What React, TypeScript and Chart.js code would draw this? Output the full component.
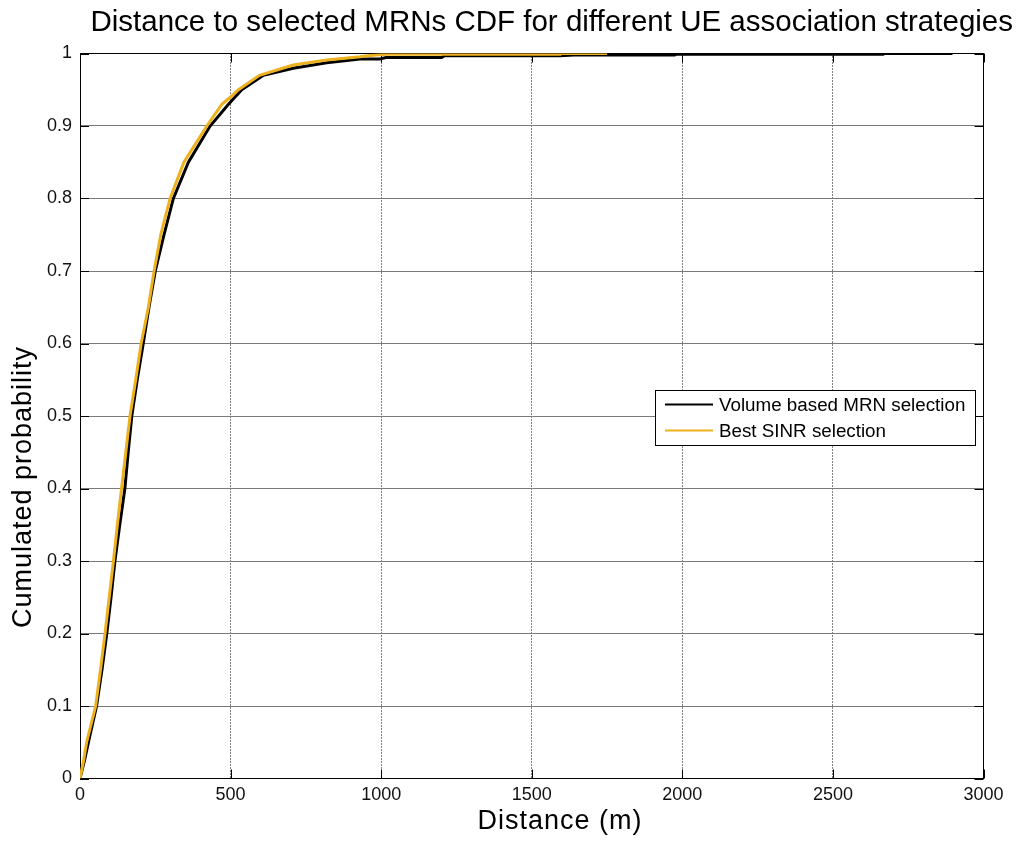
import { useEffect, useRef } from 'react';
import { Chart, registerables } from 'chart.js';

Chart.register(...registerables);

const chartTitle = 'Distance to selected MRNs CDF for different UE association strategies';
const xAxisTitle = 'Distance (m)';
const yAxisTitle = 'Cumulated probability';
const seriesNames = ['Volume based MRN selection', 'Best SINR selection'];
const seriesColors = ['#000000', '#EDB120'];

const xTicks = [0, 500, 1000, 1500, 2000, 2500, 3000];
const yTicks = [0, 0.1, 0.2, 0.3, 0.4, 0.5, 0.6, 0.7, 0.8, 0.9, 1];

const volumeDistance = [0, 15, 28, 55, 73, 89, 103, 116, 132, 149, 160, 172, 190, 210, 229, 250, 279, 310, 360, 432, 493, 537, 609, 708, 819, 930, 996, 1016, 1201, 1210, 1595, 1640, 1975, 1980, 2667, 2672, 2897];
const volumeProb = [0, 0.025, 0.05, 0.1, 0.15, 0.2, 0.25, 0.3, 0.35, 0.4, 0.45, 0.5, 0.55, 0.6, 0.65, 0.7, 0.75, 0.8, 0.85, 0.9, 0.93, 0.95, 0.97, 0.9796, 0.9873, 0.9925, 0.9925, 0.9945, 0.9945, 0.9968, 0.9968, 0.998, 0.998, 0.999, 0.999, 1, 1];

const sinrDistance = [0, 12, 22, 52, 68, 83, 97, 111, 124, 138, 152, 166, 185, 203, 227, 246, 268, 299, 345, 421, 471, 500, 526, 596, 708, 819, 930, 954, 1016, 1595, 1600, 1750];
const sinrProb = [0, 0.025, 0.05, 0.1, 0.15, 0.2, 0.25, 0.3, 0.35, 0.4, 0.45, 0.5, 0.55, 0.6, 0.65, 0.7, 0.75, 0.8, 0.85, 0.9, 0.93, 0.94, 0.95, 0.97, 0.9841, 0.991, 0.9955, 0.997, 0.999, 0.999, 1, 1];

const FONT = "'Liberation Sans', Arial, Helvetica, sans-serif";

const toPoints = (xs: number[], ys: number[]) => xs.map((x, i) => ({ x, y: ys[i] }));

const ticksPlugin = {
  id: 'inwardTicks',
  beforeDatasetsDraw(chart: any) {
    const { ctx, chartArea: a, scales } = chart;
    const len = 9;
    ctx.save();
    ctx.strokeStyle = '#000';
    ctx.lineWidth = 1;
    ctx.beginPath();
    for (const v of xTicks) {
      const px = Math.round(scales.x.getPixelForValue(v)) + 0.5;
      ctx.moveTo(px, a.bottom);
      ctx.lineTo(px, a.bottom - len);
      ctx.moveTo(px, a.top);
      ctx.lineTo(px, a.top + len);
    }
    for (const v of yTicks) {
      const py = Math.round(scales.y.getPixelForValue(v)) + 0.5;
      ctx.moveTo(a.left, py);
      ctx.lineTo(a.left + len, py);
      ctx.moveTo(a.right, py);
      ctx.lineTo(a.right - len, py);
    }
    ctx.stroke();
    ctx.restore();
  },
};

const decorPlugin = {
  id: 'decor',
  afterDraw(chart: any) {
    const { ctx } = chart;
    ctx.save();
    // axis titles
    ctx.fillStyle = '#000';
    ctx.font = `27px ${FONT}`;
    ctx.textBaseline = 'middle';
    ctx.textAlign = 'center';
    (ctx as any).letterSpacing = '1px';
    ctx.fillText(xAxisTitle, 560, 822);
    ctx.save();
    ctx.translate(24, 487);
    ctx.rotate(-Math.PI / 2);
    ctx.fillText(yAxisTitle, 0, 0);
    ctx.restore();
    (ctx as any).letterSpacing = '0px';

    // legend
    const bx = 655.5, by = 390.5, bw = 320, bh = 55;
    ctx.fillStyle = '#fff';
    ctx.fillRect(bx, by, bw, bh);
    ctx.strokeStyle = '#000';
    ctx.lineWidth = 1;
    ctx.strokeRect(bx, by, bw, bh);
    const rows = [404.5, 430.5];
    ctx.font = `18.8px ${FONT}`;
    ctx.textAlign = 'left';
    ctx.textBaseline = 'middle';
    seriesNames.forEach((name, i) => {
      ctx.strokeStyle = seriesColors[i];
      ctx.lineWidth = 2;
      ctx.beginPath();
      ctx.moveTo(665, rows[i]);
      ctx.lineTo(713, rows[i]);
      ctx.stroke();
      ctx.fillStyle = '#000';
      ctx.fillText(name, 719, rows[i] + 1);
    });
    ctx.restore();
  },
};

export default function App() {
  const ref = useRef<HTMLCanvasElement>(null);
  useEffect(() => {
    const chart = new Chart(ref.current as HTMLCanvasElement, {
      type: 'line',
      data: {
        datasets: [
          {
            label: seriesNames[0],
            data: toPoints(volumeDistance, volumeProb),
            borderColor: seriesColors[0],
            backgroundColor: seriesColors[0],
            borderWidth: 3,
            pointRadius: 0,
            tension: 0,
            order: 2,
            xAxisID: 'x',
            yAxisID: 'y',
          },
          {
            label: seriesNames[1],
            data: toPoints(sinrDistance, sinrProb),
            borderColor: seriesColors[1],
            backgroundColor: seriesColors[1],
            borderWidth: 3,
            pointRadius: 0,
            tension: 0,
            order: 1,
            xAxisID: 'x',
            yAxisID: 'y',
          },
        ],
      },
      options: {
        responsive: false,
        animation: false,
        devicePixelRatio: 1,
        layout: { padding: { left: 0, right: 4, top: 0, bottom: 0 } },
        plugins: {
          legend: { display: false },
          tooltip: { enabled: false },
          title: {
            display: true,
            text: chartTitle,
            align: 'end',
            color: '#000',
            font: { family: FONT, size: 29.5, weight: 'normal', lineHeight: 1.2 },
            padding: { top: 5.6, bottom: 12.5 },
          },
        },
        scales: {
          x: {
            type: 'linear',
            position: 'bottom',
            min: xTicks[0],
            max: xTicks[xTicks.length - 1],
            ticks: {
              stepSize: xTicks[1] - xTicks[0],
              color: '#111',
              padding: 5.5,
              maxRotation: 0,
              font: { family: FONT, size: 18 },
              callback: (v: any) => String(Math.round(Number(v))),
            },
            grid: { color: '#000', lineWidth: 1, drawTicks: false },
            border: { display: true, color: '#000', width: 1, dash: [1, 2] },
            afterFit: (s: any) => { s.height = 64.5; },
          },
          xT: {
            type: 'linear',
            position: 'top',
            min: xTicks[0],
            max: xTicks[xTicks.length - 1],
            ticks: { display: false },
            grid: { display: false, drawTicks: false },
            border: { display: true, color: '#000', width: 1 },
            afterFit: (s: any) => { s.height = 0; },
          },
          y: {
            type: 'linear',
            position: 'left',
            min: yTicks[0],
            max: yTicks[yTicks.length - 1],
            ticks: {
              stepSize: 0.1,
              color: '#111',
              padding: 8,
              font: { family: FONT, size: 18 },
              callback: (v: any) => String(Math.round(Number(v) * 10) / 10),
            },
            grid: { color: '#7a7a7a', lineWidth: 1, drawTicks: false },
            border: { display: true, color: '#000', width: 1 },
            afterFit: (s: any) => { s.width = 80; },
          },
          yR: {
            type: 'linear',
            position: 'right',
            min: 0,
            max: 1,
            ticks: { display: false },
            grid: { display: false, drawTicks: false },
            border: { display: true, color: '#000', width: 1 },
            afterFit: (s: any) => { s.width = 29.5; },
          },
        },
      } as any,
      plugins: [ticksPlugin, decorPlugin],
    });
    return () => chart.destroy();
  }, []);
  return (
    <div style={{ position: 'fixed', left: 0, top: 0, width: 1017, height: 843, background: '#fff' }}>
      <canvas ref={ref} width={1017} height={843} style={{ display: 'block' }} />
    </div>
  );
}
